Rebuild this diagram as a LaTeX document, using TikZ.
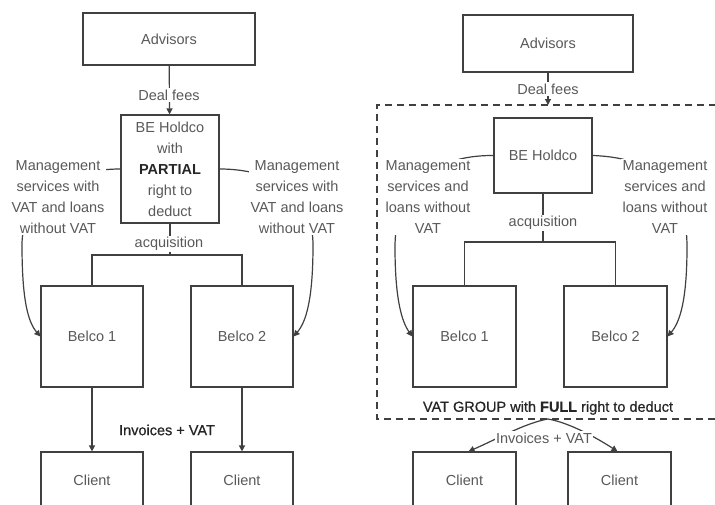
\documentclass[tikz,border=0pt]{standalone}
\usepackage{fontspec}
\setmainfont{Liberation Sans}
\newfontfamily\semib[FakeBold=0.6]{Liberation Sans}
\usetikzlibrary{arrows.meta,calc}
\newcommand\fsz{\fontsize{14.5}{21}\selectfont}
\begin{document}
\begin{tikzpicture}[x=1pt,y=-1pt,
  box/.style={draw=black!75,line width=1.2pt,fill=white,text=black!65,font=\fsz,inner sep=1pt},
  lbl/.style={text=black!65,font=\fsz,align=center,fill=white,inner sep=1.5pt},
  dark/.style={text=black!85,font=\fsz\semib,inner sep=1.5pt},
  link/.style={draw=black!75,line width=1.2pt},
  arr/.style={link,-{Triangle[length=6pt,width=6pt]}},
  grp/.style={draw=black!75,line width=2pt,dash pattern=on 7pt off 5pt},
]
\useasboundingbox (0,0) rectangle (715,504);
\clip (0,0) rectangle (715,504);
\fill[white] (0,0) rectangle (715,504);

% ---------------- left diagram ----------------
\node[box,minimum width=172pt,minimum height=52pt] (advL) at (169,39) {Advisors};
\node[box,minimum width=98pt,minimum height=108pt,align=center] (holdL) at (170,169)
  {BE Holdco\\with\\\textbf{\color{black!85}PARTIAL}\\right to\\deduct};
\node[box,minimum width=102pt,minimum height=101pt] (belco1L) at (92,336.5) {Belco 1};
\node[box,minimum width=102pt,minimum height=101pt] (belco2L) at (242,336.5) {Belco 2};
\node[box,minimum width=102pt,minimum height=56pt] (client1L) at (92,480) {Client};
\node[box,minimum width=102pt,minimum height=56pt] (client2L) at (242,480) {Client};

\draw[arr] (advL) -- (holdL);
\node[lbl] (dealL) at (169,95) {Deal fees};

\draw[arr] (holdL.west) .. controls (60,169) and (22,200) .. (22,245)
  .. controls (22,300) and (28,322) .. (belco1L.west);
\draw[arr] (holdL.east) .. controls (280,169) and (313,200) .. (313,245)
  .. controls (313,300) and (306,322) .. (belco2L.east);
\node[lbl] (mgLL) at (58,197) {Management\\services with\\VAT and loans\\without VAT};
\node[lbl] (mgLR) at (297,197) {Management\\services with\\VAT and loans\\without VAT};

\coordinate (jL) at (170,255);
\draw[link] (holdL.south) -- (jL);
\draw[link] (belco1L.north) |- (jL) -| (belco2L.north);
\node[lbl] (acqL) at (169,244) {acquisition};

\draw[arr,line width=1.4pt] (belco1L) -- (client1L);
\draw[arr,line width=1.4pt] (belco2L) -- (client2L);
\node[dark] (invL) at (167,430) {Invoices + VAT};

% ---------------- right diagram ----------------
\node[box,minimum width=170pt,minimum height=57pt] (advR) at (548,43.5) {Advisors};
\coordinate (gTop) at (548,105);
\draw[grp] (740,105) -- (377,105) -- (377,419) -- (740,419);
\draw[arr] (advR) -- (gTop);
\node[lbl] (dealR) at (548,89) {Deal fees};

\node[box,minimum width=98pt,minimum height=75pt] (holdR) at (543,155.5) {BE Holdco};
\node[box,minimum width=103pt,minimum height=101pt] (belco1R) at (464.5,336.5) {Belco 1};
\node[box,minimum width=103pt,minimum height=101pt] (belco2R) at (615.5,336.5) {Belco 2};
\node[box,minimum width=103pt,minimum height=56pt] (client1R) at (464.5,480) {Client};
\node[box,minimum width=103pt,minimum height=56pt] (client2R) at (619.5,480) {Client};

\draw[arr] (holdR.west) .. controls (430,155) and (395,190) .. (395,247)
  .. controls (395,300) and (402,322) .. (belco1R.west);
\draw[arr] (holdR.east) .. controls (660,158) and (687,190) .. (687,247)
  .. controls (687,300) and (680,322) .. (belco2R.east);
\node[lbl] (mgRL) at (428,197) {Management\\services and\\loans without\\VAT};
\node[lbl] (mgRR) at (665,197) {Management\\services and\\loans without\\VAT};

\coordinate (jR) at (543,242);
\draw[link,line width=2pt] (holdR.south) -- (jR);
\draw[link] (belco1R.north) |- (jR) -| (belco2R.north);
\node[lbl] (acqR) at (543,223) {acquisition};

\node[dark] (grpL) at (548,408) {VAT GROUP with \textbf{FULL} right to deduct};
\coordinate (gBot) at (548,419);
\draw[arr] (gBot) .. controls (525,423) and (495,440) .. ($(client1R.north)+(4,0)$);
\draw[arr] (gBot) .. controls (571,423) and (600,440) .. ($(client2R.north)+(-2,0)$);
\node[lbl] (invR) at (544,438) {Invoices + VAT};
\end{tikzpicture}
\end{document}
